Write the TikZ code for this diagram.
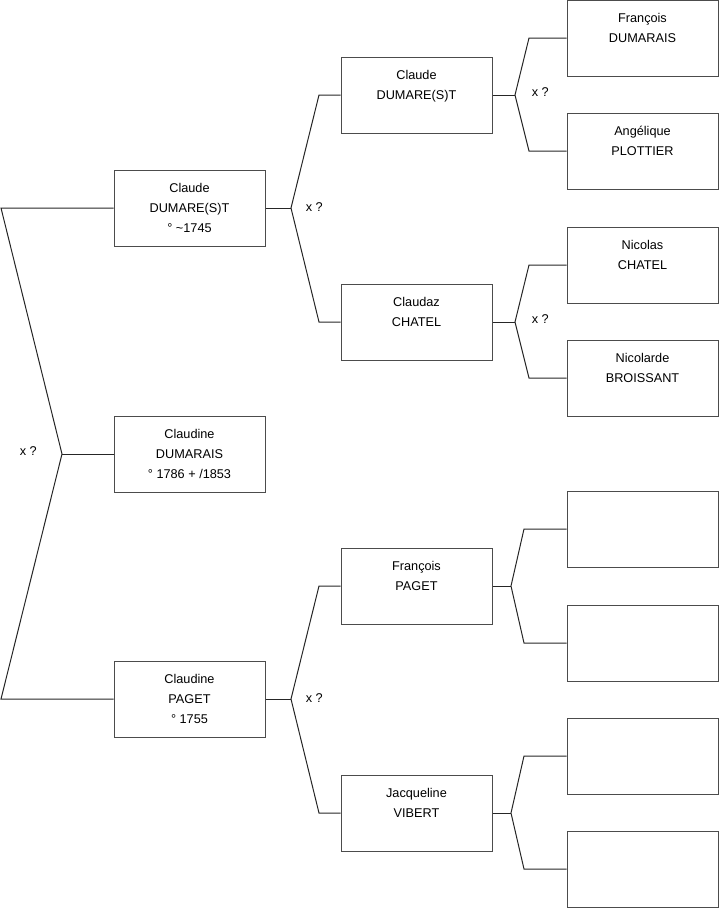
\documentclass[tikz,border=0pt]{standalone}
\usepackage{fontspec}
\setmainfont{Liberation Sans}
\usetikzlibrary{calc}

\begin{document}
\begin{tikzpicture}[x=1pt,y=-1pt,line width=1pt,
  person/.style={draw=black!70,fill=white,minimum width=151pt,minimum height=76pt,
    inner sep=0pt,align=center,font=\fontsize{12.7}{20}\selectfont},
  link/.style={draw=black!85},
  mark x/.style={font=\fontsize{12.7}{14}\selectfont,anchor=west}]
\useasboundingbox (0,0) rectangle (719,908);
\def\ca{189.5}
\def\cb{416.5}
\def\cc{642.5}
% generation 1
\node[person] (a11) at (\ca, 208) {Claude\\DUMARE(S)T\\° \textasciitilde1745};
\node[person] (a12) at (\ca, 454) {Claudine\\DUMARAIS\\° 1786 + /1853};
\node[person] (a13) at (\ca, 699) {Claudine\\PAGET\\° 1755};
% generation 2
\node[person] (a21) at (\cb, 95) {Claude\\DUMARE(S)T\\~};
\node[person] (a22) at (\cb, 322) {Claudaz\\CHATEL\\~};
\node[person] (a23) at (\cb, 586) {François\\PAGET\\~};
\node[person] (a24) at (\cb, 813) {Jacqueline\\VIBERT\\~};
% generation 3
\node[person] (a31) at (\cc, 38) {François\\DUMARAIS\\~};
\node[person] (a32) at (\cc, 151) {Angélique\\PLOTTIER\\~};
\node[person] (a33) at (\cc, 265) {Nicolas\\CHATEL\\~};
\node[person] (a34) at (\cc, 378) {Nicolarde\\BROISSANT\\~};
\node[person] (a35) at (\cc, 529) {};
\node[person] (a36) at (\cc, 643) {};
\node[person] (a37) at (\cc, 756) {};
\node[person] (a38) at (\cc, 869) {};

% forks
\coordinate (f0) at (62, 454);
\coordinate (l1) at (1, 208);
\coordinate (l3) at (1, 699);
\draw[link] (a11.west) -- (l1) -- (f0) -- (l3) -- (a13.west);
\draw[link] (f0) -- (a12.west);
\node[mark x] (x0) at (16, 451) {x ?};

\foreach \p/\q/\r/\s/\y/\ya/\yb/\fx/\bx in
  {a11/a21/a22/x1/208/95/322/291/319,
   a13/a23/a24/x2/699/586/813/291/319,
   a21/a31/a32/x3/95/38/151/515/529,
   a22/a33/a34/x4/322/265/378/515/529,
   a23/a35/a36/x5/586/529/643/511/524,
   a24/a37/a38/x6/813/756/869/511/524}{
  \coordinate (\s f) at (\fx, \y);
  \draw[link] (\p.east) -- (\s f);
  \draw[link] (\q.west) -- (\bx, \ya) -- (\s f) -- (\bx, \yb) -- (\r.west);
}
\node[mark x] at (302, 207) {x ?};
\node[mark x] at (302, 698) {x ?};
\node[mark x] at (528, 92) {x ?};
\node[mark x] at (528, 319) {x ?};
\end{tikzpicture}
\end{document}
